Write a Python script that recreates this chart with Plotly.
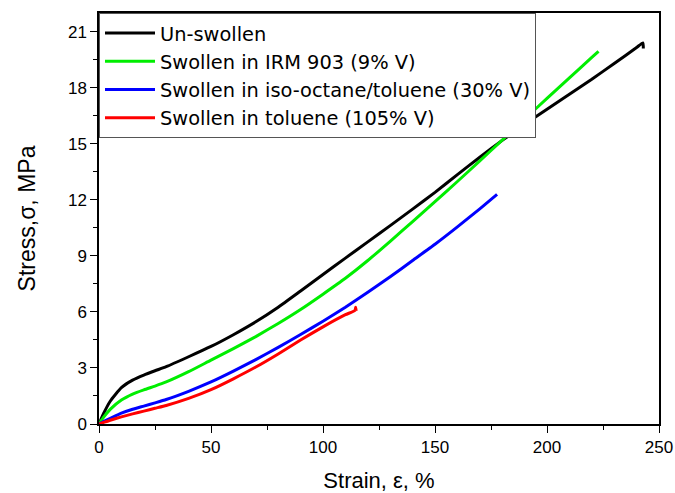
import plotly.graph_objects as go

# Data (strain %, stress MPa)
unswollen_x = [0, 2, 5, 10, 15, 20, 25, 30, 40, 50, 60, 70, 80, 90, 100, 110, 120, 130, 140, 150,
               160, 170, 180, 190, 200, 210, 220, 230, 240, 242.8, 243.0]
unswollen_y = [0, 0.55, 1.22, 1.95, 2.35, 2.62, 2.85, 3.07, 3.6, 4.15, 4.78, 5.47, 6.25, 7.12, 8.0, 8.88,
               9.75, 10.62, 11.5, 12.4, 13.35, 14.28, 15.18, 16.03, 16.85, 17.65, 18.45, 19.3, 20.15,
               20.4, 20.1]

irm_x = [0, 2, 5, 10, 15, 20, 25, 30, 40, 50, 60, 70, 80, 90, 100, 110, 120, 130, 140, 150,
         160, 170, 180, 190, 200, 210, 220, 223]
irm_y = [0, 0.35, 0.78, 1.28, 1.6, 1.83, 2.03, 2.25, 2.8, 3.42, 4.03, 4.68, 5.38, 6.13, 6.95, 7.8,
         8.75, 9.78, 10.83, 11.9, 12.98, 14.08, 15.2, 16.32, 17.43, 18.53, 19.62, 19.95]

iso_x = [0, 2, 5, 10, 15, 20, 25, 30, 40, 50, 60, 70, 80, 90, 100, 110, 120, 130, 140, 150,
         160, 170, 177.7]
iso_y = [0, 0.13, 0.3, 0.58, 0.79, 0.96, 1.13, 1.31, 1.75, 2.25, 2.83, 3.45, 4.1, 4.79, 5.5, 6.25,
         7.05, 7.88, 8.75, 9.62, 10.55, 11.52, 12.29]

tol_x = [0, 2, 5, 10, 15, 20, 25, 30, 40, 50, 60, 70, 80, 90, 100, 110, 114.3, 114.6, 114.8]
tol_y = [0, 0.08, 0.2, 0.38, 0.54, 0.69, 0.84, 0.99, 1.37, 1.84, 2.42, 3.05, 3.75, 4.5, 5.2, 5.85,
         6.08, 6.25, 6.05]

names = ["Un-swollen", "Swollen in IRM 903 (9% V)",
         "Swollen in iso-octane/toluene (30% V)", "Swollen in toluene (105% V)"]
colors = ["#000000", "#00ee00", "#0000ff", "#ff0000"]

x_ticks = [0, 50, 100, 150, 200, 250]
y_ticks = [0, 3, 6, 9, 12, 15, 18, 21]

FONT = "Liberation Sans, Arial, sans-serif"
LEGEND_FONT = "DejaVu Sans, Liberation Sans, sans-serif"

fig = go.Figure()
for xs, ys, n, c in zip([unswollen_x, irm_x, iso_x, tol_x], [unswollen_y, irm_y, iso_y, tol_y], names, colors):
    fig.add_trace(go.Scatter(x=xs, y=ys, mode="lines", name=n,
                             line=dict(color=c, width=3, shape="spline", smoothing=0.5)))

axis_common = dict(showline=True, linecolor="#000000", linewidth=1.5, mirror=True,
                   showgrid=False, zeroline=False, ticks="outside", ticklen=7, tickwidth=1.2,
                   tickcolor="#000000", automargin=False,
                   tickfont=dict(family=FONT, size=17, color="#000000"))

fig.update_xaxes(range=[0, 250], tickvals=x_ticks,
                 minor=dict(ticks="outside", ticklen=4, tickwidth=1.2, tickcolor="#000000", dtick=25),
                 title=dict(text="Strain, ε, %", font=dict(family=FONT, size=22, color="#000000"), standoff=22),
                 **axis_common)
fig.update_yaxes(range=[0, 22], tickvals=y_ticks,
                 minor=dict(ticks="outside", ticklen=4, tickwidth=1.2, tickcolor="#000000", dtick=1.5, tick0=0),
                 title=dict(text="Stress,σ, MPa", font=dict(family=FONT, size=23, color="#000000"), standoff=26),
                 **axis_common)

fig.update_layout(
    width=675, height=493,
    margin=dict(l=99, r=16, t=13, b=69, autoexpand=False),
    paper_bgcolor="white", plot_bgcolor="white",
    showlegend=True,
    legend=dict(x=0, y=1, xanchor="left", yanchor="top",
                bgcolor="white", bordercolor="#555555", borderwidth=1,
                font=dict(family=LEGEND_FONT, size=19.4, color="#000000"),
                itemwidth=50, tracegroupgap=0),
)

fig.write_html("out.html")
